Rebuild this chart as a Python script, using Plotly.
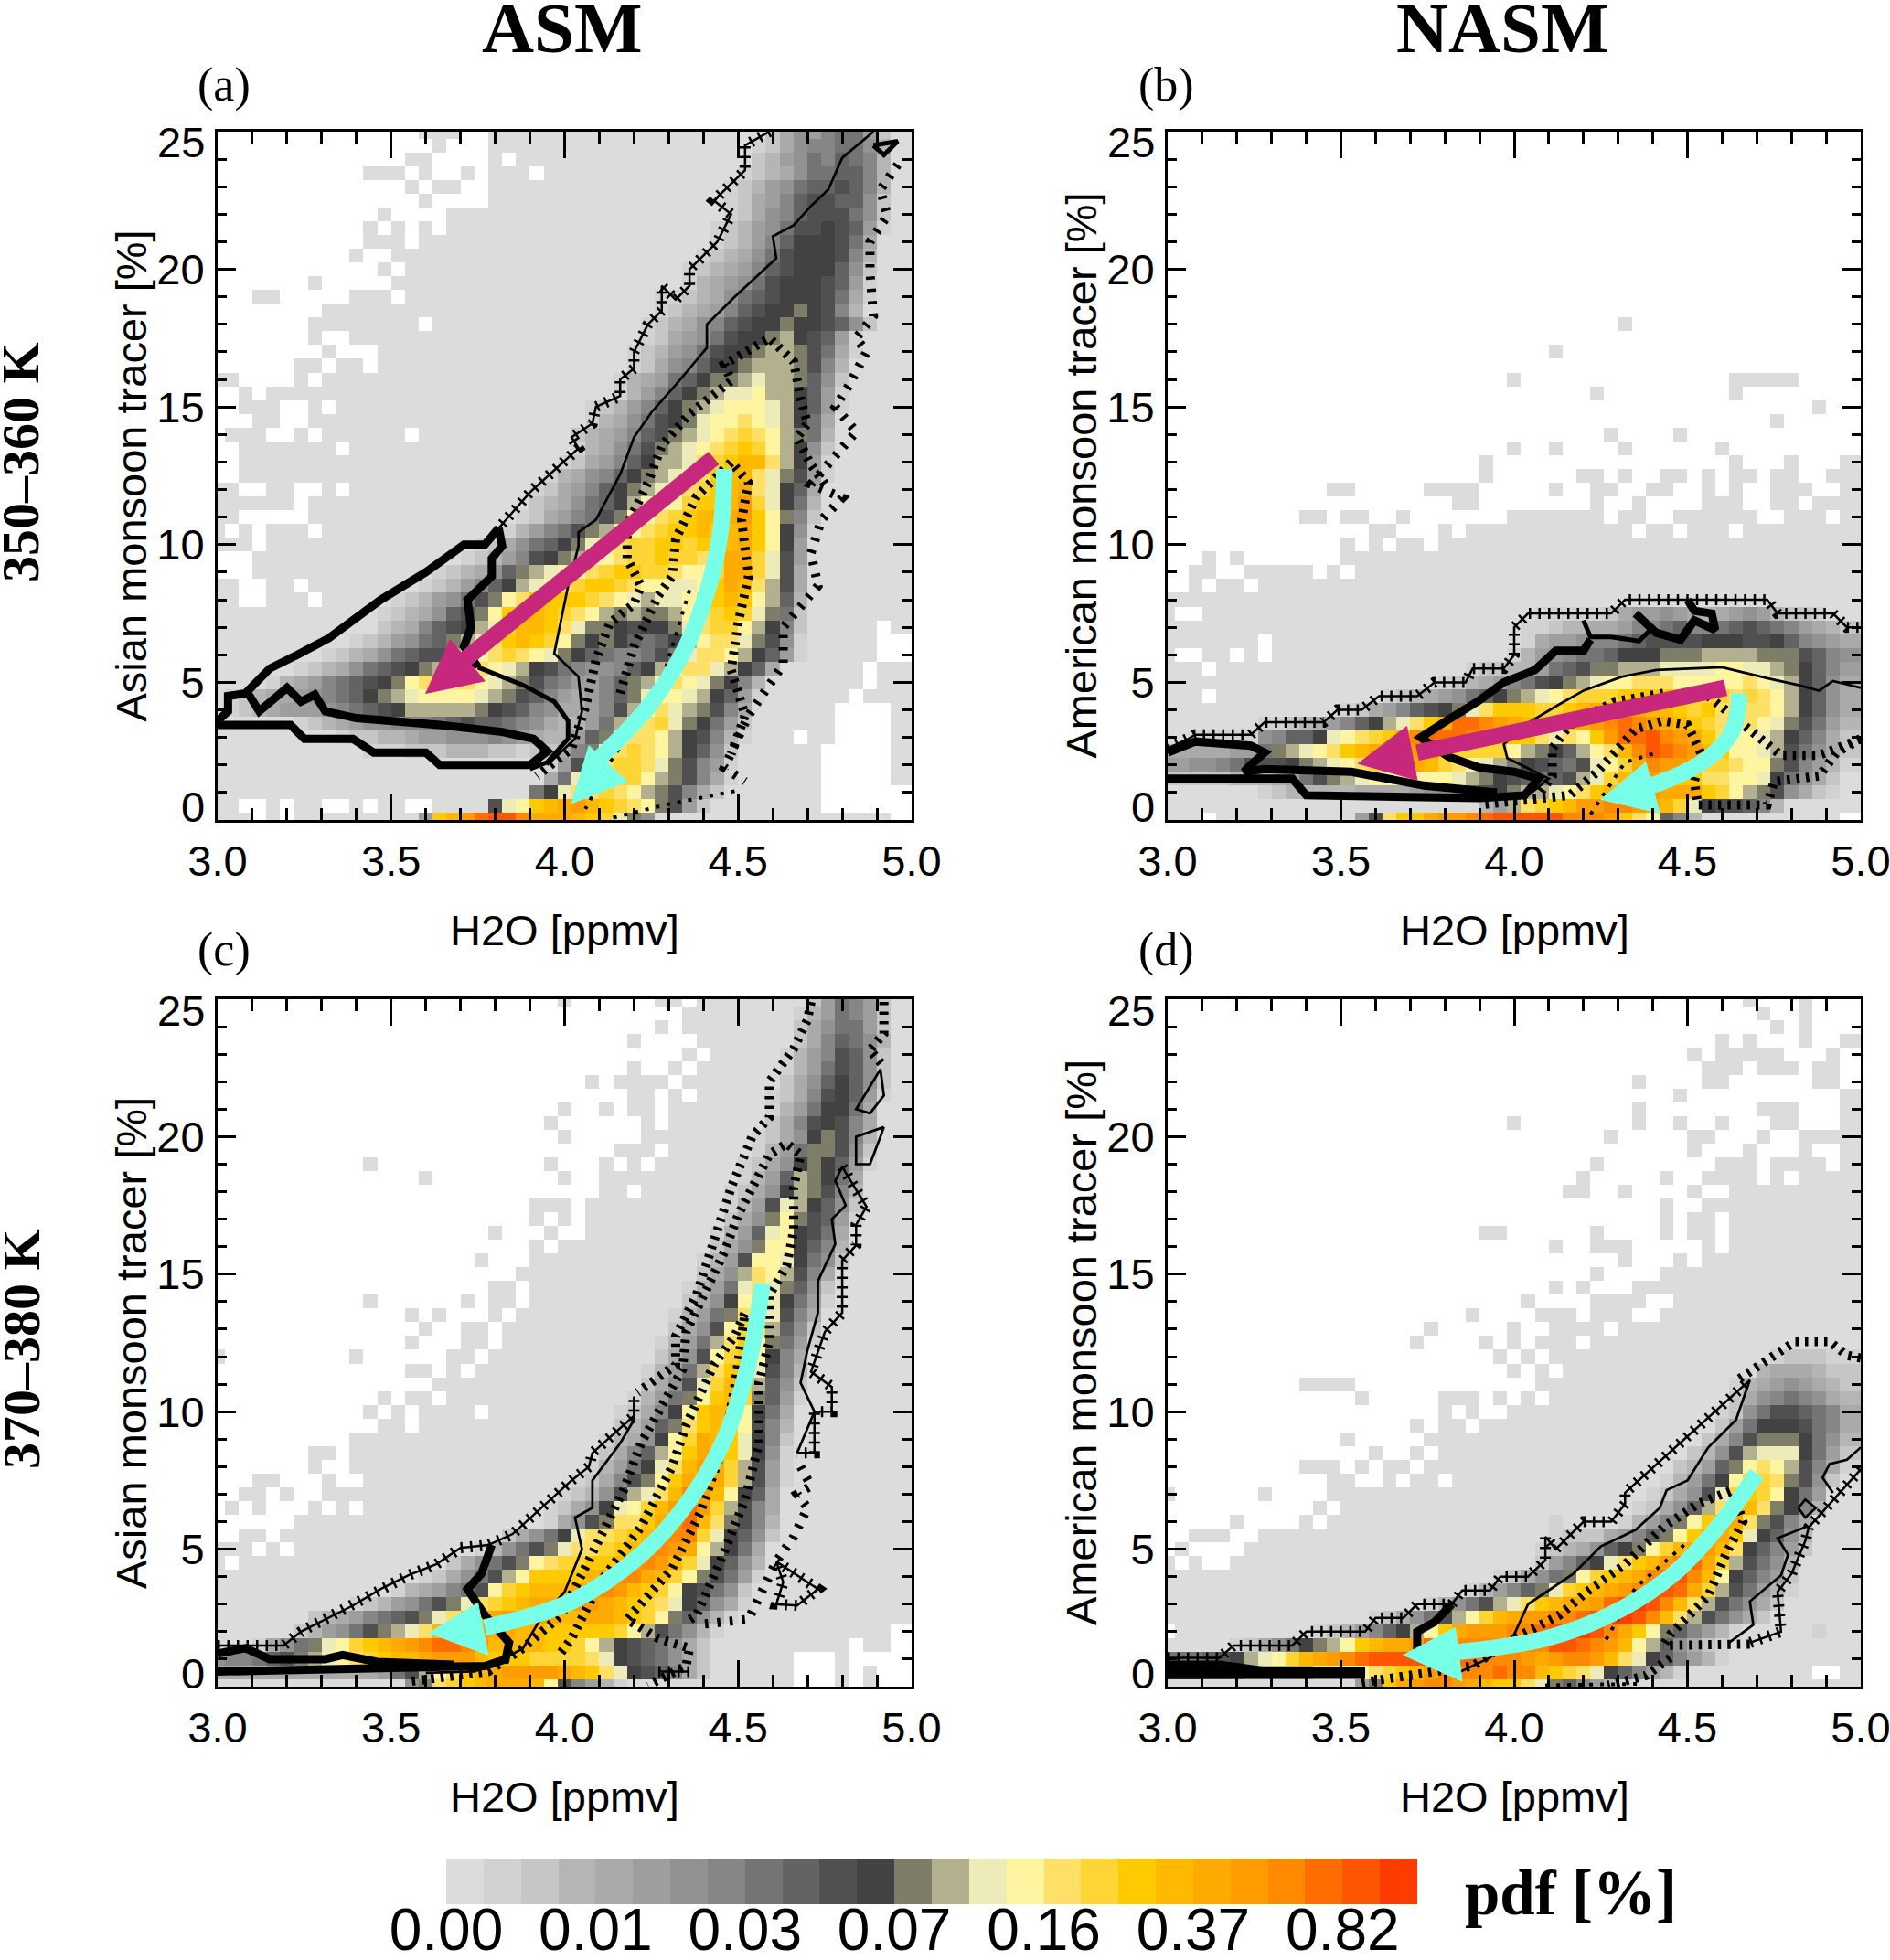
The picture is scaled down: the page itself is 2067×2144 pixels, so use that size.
import plotly.graph_objects as go

# ---------- pdf classes per cell: '.' = no data, a..z = colour classes 1..26 (rows: y=25 down to y=0) ----------
PDF_A = [
".......... .....aaa.. aaaaaaaaaa aaaaaaaaaa cegfhiifca",
".......... ......a... aaaaaaaaaa aaaaaaaaab ceghhiigda",
".......... ....aa.... a.aaaaaaaa aaaaaaaaac dfgihjihda",
".......... .aaa.a..a. aaa.aaaaaa aaaaaaaabc degiijjhda",
".......... ....a.aa.. aaaaaaaaaa aaaaaaabcd fgijjkjhda",
".......... .....a.... aaaaaaaaaa aaaaaaabce fhjkkjjgca",
".......... ..a....aaa aaaaaaaaaa aaaaaaabce ghjkkkigca",
".......... .a.a.a.aaa aaaaaaaaaa aaaaaabcdf gikklkjfba",
".......... .aaa.aaaaa aaaaaaaaaa aaaaaabcdf hjlllkieaa",
".......... a..aaaaaaa aaaaaaaaaa aaaaabcdeg iklllkhdaa",
".......... ..a.aaaaaa aaaaaaaaaa aaaabcdefh jkllljgcaa",
".......a.. ...aaaaaaa aaaaaaaaaa aaaabdefgi klllkjfbaa",
"...aa..... aaa.aaaaaa aaaaaaaaaa aabbcdegij klllkiebaa",
"........aa aaaaaaaaaa aaaaaaaaaa aabcdefhjk llmlkhdaaa",
".......aaa aaaaa.aaaa aaaaaaaaaa abcdeghjkl lmllkjgcaa",
".......a.. aaaaaaaaaa aaaaaaaaaa abcefgikll mnlkjfbaaa",
"........a. ..aaaaaaaa aaaaaaaaaa bcdfgikllm nnmkiebaaa",
"......aa.a a.aaaaaaaa aaaaaaaaaa bceghjllmn nnmkhdaaaa",
"aa....a.aa aaaaaaaaaa aaaaaaaaab defijlmmno nnmjgcaaaa",
"..a.aaaaaa aaaaaaaaaa aaaaaaaaab dfhjlmnoop nnljfbaaaa",
"..aaa..a.a aaaaaaaaaa aaaaaaabcd fhjlmnoppp onljfbaaaa",
"...aa..aaa aaaaaaaaaa aaaaaaabde giklmoppqp onlieaaaaa",
".aaa..a.aa aaaa.aaaaa aaaaaacdef hjkmnopqrq pnmidaaaaa",
"..aaaaaaa. aaaaaaaaaa aaaaaabdeg ikmnopqrsr pnlgcaaaaa",
"..aaaaaaaa aaaaaaaaaa aaaaabcefh jlnnoqrstt qnlfbaaaaa",
"..aaaaaaaa aaaaaaaaaa aaaabdeghj lmnopqsttq omkfbaaaaa",
"aa..aa..a. aaaaaaaaaa aaabcefhjl mnopqrstuq oljeaaaaaa",
"aaaaaa.aaa aaaaaaaaaa aaacdegijl npppr sstvr olidaaaaaa",
"aa.....aaa aaaaaaaaaa aabcefhikm ppqrsttuvs pmhcaaaaaa",
"a.a.aaa.aa aaaaaaaaaa abdfhikmno pqrsststus plgbaaaaaa",
"aaa.aaaaaa aaaaaaaaab cegijlmopq rrssrsrtus plfaaaaaaa",
"...aaaaaaa aaaaaaaabc dfhklmnppq rrsrrqsuur okfaaaaaaa",
"...aaaaaaa aaaaaabcde gjmnoppqrs srrqppruur okeaaaaaaa",
"aa..aa.aaa aaaaabcdfh jlnopqrssr qppoopsutq nkeaaaaaaa",
"aa..aaa.aa aaabcdfgik mpqssssrqp onooprstsp njdaaaaaaa",
"aaaaaaaaaa aabcdegjkm psttsrqpnm nmmnpqrsro micaaaaaaa",
"aaaaaaaaaa aacdehjkln orttsqomml kllmoqrrpn lhcaaaaa.a",
"aaaaaaaaaa bcdfgijmno qstsrpmlml jijlnpqqom kgbaaaaa..",
"aaaaaaaabc degijkknop qrqpomljih hikmoqqpnl jfbaaaaa..",
"aaaaaabcde gijklmnpqq ponlkihggh jlnpqqonlj eaaaaaa.aa",
"aaaabdefhi jklmpqrqqp onmkihffhj mnpqpomlhd aaaaaaa.aa",
"abcdeefghi jlmnoppppo nmkjhfefhj mopponljfb aaaaaa.aaa",
"abcdefffgh ijklnnnnnm lkjhgeefhk npqonmkhea aaaaa....a",
"aaaaaabcde fgghhhijkj jihgeddfin pqromlifca aaaaa....a",
"aaaaaaaaab ccddeffggg hgfeddfjmp qqpnlkhdba aa.aa....a",
"aaaaaaaaaa abbbcccddd ccbccehmoq rqpnljgcaa aaaa.....a",
"aaaaaaaaaa aaaaaaaaaa aaaabfkoqr rqomkhfbaa aaaa.....a",
"aaaaaaaaaa aaaaaaaaaa aaaaeioqqr rpnmkhebaa aaaa.....a",
"aaaaaaaaaa aaaaaaaaaa aaailoqqrq pnmkhecaaa aaaa......",
"aa..a.aa.. a.aa..aaaa kopstuvtsr qpmkfcaaaa aaaa......",
"aaa.a.aaaa aaaaafstvx yywuuutsro mgaaaaaaaa aaaaaaaaa.",
]

PDF_B = ["." * 50] * 14 + [
".......... .......... .......... ...a...... ..........",
".......... .......... .......... .......... ..........",
".......... .......... ........a. .......... ..........",
".......... .......... .......... .......... ..........",
".......... .......... .....a.... .......... .aaaaa....",
".......... .......... .......... .a........ .a........",
".......... .......... .......... .......... .......a..",
".......... .......... .......... .......... ....a.....",
".......... .......... .......... ..a....a.. ..........",
".......... .......... .....a..a. ...a...... a.........",
".......... .......... ...a...... .......... .a...a...a",
".......... .......... ...a...... aa.a..aa.a .aa.aa..aa",
".......... ..aa.....a aaa.....a. .aa..aa..a .a..aaa..a",
".......... .......... .aa....... .a..a....a aa..aa.aaa",
".......... aa.aa..a.. .....aaaaa aa.aa..aaa aaa..aaa.a",
".......... .....aa... a.aaaaaaaa aaaa.aa.aa a.aaaaaaaa",
".......... ...a.a.aa. aaaaaaaaaa aaaaaaaaaa aaaaaaaaaa",
"...a.a.... ...aaaaaaa aaaaaaaaaa aaaaaaaaaa aaaaaaaaaa",
"..aa..aaaa a.a.aaaaaa aaaaaaaaaa aaaaaaaaaa aaaaaaaaaa",
"..a.aa.aaa aaaaaaaaaa aaaaaaaaaa aaaaaaaaaa aaaaaaaaaa",
"aaaaaaaaaa aaaaaaaaaa aaaaaaaaaa aaaaaaaaaa aaaaaaaaaa",
"a..aaaaaaa aaaaaaaaaa aaaaaaabbb bbceffgfed efgfdccbaa",
"aaaaaaaaaa aaaaaaaaaa aaaaaabbcd deefhhijhh ijkjihfedc",
"aaaaaaa.aa aaaaaaaaaa aaaaaabeff ghhijkkkkl llkkljhgfe",
"a..aa.a.aa aaaaaaaaaa aaaaabdfgh iijlllmmmn nnnmmmkjhg",
"aaa.aaaaaa aaaaaaaaaa aabccddfij kmmnnnoooo ppoonmljhf",
"aaaaaaaaaa aaaaaaaaaa bcdefhiklm noppqqqppp ppqponljge",
"aaa.aaaaaa aaaaaabcde fgijlmnopq rrrsssssrr rqrqpnljge",
"aaaaaaaaaa aaabcefhjk lmoqsssrrs tuuuuttsrs qqqqpnljge",
"aaaaaaabbc defhjlnoqs uxxwvutsst uvwxwvutsr qpqpomkifd",
"aabbbbbghj jlopqrsuwx xxwvsssqoq psvxxywvus qpponljhec",
"eeeeeffimn opqstuwwvt srrrrpnmlj npqtwyxwvt spponkigec",
"ffgghikkkl mnopqrsuut rqponmlkji kopruwvvur rqppmkhfdb",
"cccccdddef ikmnoppppp ponmlkjijk nortvvtssq qppoligeca",
"aaaaaaabcd ddddeeeefg hijklmnnop qstuvvuuus rpnmkgecba",
"aaaaaaaaaa aaaaaaaaaa aaadfnqrst vvwwvutrol kkjhdaaaaa",
"aaa.aaaaaa aaaafkqssu vvwxyyyyyw wwvsqpjhda aaaaaaaaa.",
]

PDF_C = [
".......... .......... .....a.... ..aa.aaaaa aaacfihfca",
".......... .......... .......... ....aaaaaa aabdfihfca",
".......... .......... .......... ..a.aaaaaa aacegiifca",
".......... .......... .......... a....aaaaa aacehjigda",
".......... .......... .......... ....a.aaaa abdfhkjgca",
".......... .......... .......... a..a.aaaaa abdfikjgca",
".......... .......... .......a.a aaa.aaaaaa acegjljgca",
".......... .......... .......... aa.a.aaaaa bcehkljfba",
".......... .......... .....a..a. aa.aaaaaaa bdfillieaa",
".......... .......... ....a..... .a.aaaaaaa cehklkheaa",
".......... .......... .....a.... .aaaaaaaab ceglmkhdaa",
".......... .......... .........a aa.aaaaaab dfimmkgcaa",
".......... .a........ ....a...a. a.aaaaaabc eglmljfbaa",
".......... .....a.... .....a..aa aaaaaaaabd fjnmlieaaa",
".......... .......... ........aa .aaaaaabce glnmkhdaaa",
".......... .......... ...aaa.aaa aaaaaaabdf konljgcaaa",
".......... .......... ...a.a.aaa aaaaaaaceg mpmkjfbaaa",
".......... .......... a...a..aaa aaaaaabdfj oplkieaaaa",
".......... .......... ...a.aaaaa aaaaaacegm ppljhdaaaa",
".......... .........a ...aaaaaaa aaaaabdfkp poligcaaaa",
".......... .......... ..aaaaaaaa aaaaacegnq pnkheaaaaa",
".......... .......... aa.aaaaaaa aaaabdfioq omjgcaaaaa",
".......... .a......a. aa.aaaaaaa aaaaceglpq olifbaaaaa",
".......... ....a.a... a.aaaaaaaa aaabdfimqr okheaaaaaa",
".......... .....a..aa .aaaaaaaaa aaacegkprq njgcaaaaaa",
".......... ....a...aa .aaaaaaaaa aabdfinqsp mifbaaaaaa",
"a......... a......aa. aaaaaaaaaa aacegkprsp lheaaaaaaa",
".......... ....aa.a.a aaaaaaaaaa abdfinqsso khdaaaaaaa",
".......... ......aaaa aaaaaaaaaa acegkortsn jgcaaaaaaa",
".......... ..a.aa.aaa aaaaaaaaaa bdfimpstrm jfbaaaaaaa",
".......... .a.a.aaaa. aaaaaaaaab cehlpsttpl ieaaaaaaaa",
".......... ..aa.aaaaa aaaaaaaaac dfjmqstspk hdaaaaaaaa",
".......... aaaaaaaaaa aaaaaaaabd eglprutsol hcaaaaaaaa",
".......aa. aaaaaaaaaa aaaaaaaace hjnpsuusol gbaaaaaaaa",
".......a.. aaaaaaaaaa aaaaaaabdf iloqtvurnk fbaaaaaaaa",
"...aa...a. .aaaaaaaaa aaaaaabceh kmpsuwurnk fbaaaaaaaa",
"..aa.a..aa aaaaaaaaaa aaaaabcdgk noqtwvtplj eaaaaaaaaa",
".a.a...a.a .aaaaaaaaa aaaabceglo prtvxvrnkh eaaaaaaaaa",
"......aaaa aaaaaaaaaa aaaabegkmq qsuwxtqmkh daaaaaaaaa",
"..aa.aaaaa aaaaaaaaaa acegiloqqr stvwwroljg caaaaaaaaa",
"aaa.a.aaaa aaaaaaaaab dgikmoqqrs tvwvupnlie aaaaaaaaaa",
"a.aaaaaaaa aaaaaaaceg ikmpqrrsst vwvtroljgd aaaaaaaaaa",
"aaaaaaaaaa aaaaabcegi knpsssstuw wutrpmkifb aaaaaaaaaa",
"aaaaaaaaaa aaabdefhik prstttuvwv tsrplkigca aaaaaaaaaa",
"aaaaaaaaaa bcdfgikmoq rstuuvvvut srqoljgeba aaaaaaaaaa",
"aaaaaaacde fhijkmoqst uvvvuttuut srpmjgdbaa aaaaaaaaaa",
"aaaaaacdfg ikmnoqtvwv uuttsssssr pnkigdbaaa aaaaaaaaa.",
"aaabegimop rstuvwxxwv ttttssrpnl kjigecaaaa aaaaaa.aa.",
"ghhijkmnop qrsttuvvvt sssrrrrqol kjigecaaaa aa...a....",
"eeeeeeeeee eefiknpqst uvvvvutsqo lkjhecaaaa aa...a.a..",
"aaaaaaaaaa aaaagmqrst uuutpkhfdb aaaaaaaaaa aa...a.a..",
]

PDF_D = [
".......... .......... .......... .......... ..a...a...",
".......... .......... .......... .......... ...a..a...",
".......... .......... .......... .......... ....a.a...",
".......... .......... .......... .......... a.a...a..a",
".......... .......... .......... ........a. aaaaa...a.",
".......... .......... .......... .........a aa.aaa.aa.",
".......... .......... .......... ....a....a a......aa.",
".......... .......... .......... .......a.. .........a",
".......... .......... .......... ....a..... ...aaa...a",
".......... .......... .....a.... ....a..a.. a...aa...a",
".......... .......... .......... ..a.....aa ...a..aaaa",
".......... .......... .......... ........a. ..a...a..a",
".......... .......... .......... .a........ aaa.aaaa.a",
".......... .......... .......... a.....a..a aaa.a.aaaa",
".......... .......... .........a a..a....a. .aaaaaaaaa",
".......... .......... .......... ......a..a aaaaaaaaaa",
".......... .......... .......... ......a.aa .aaaaaaaaa",
".......... .......... ...aa..... .a....a.aa .aaaaaaaaa",
".......... .......... ........a. .aaa.....a .aaaaaaaaa",
".......... .......... .......... ...a...a.a aaaaaaaaaa",
".......... .......... .......... .a....aaaa aaaaaaaaaa",
".......... .......... ........a. a...aaaaaa aaaaaaaaaa",
".......... .......... ......a... .aaaa..aaa aaaaaaaaaa",
".......... .......... ..a....aaa .aaa..aaaa aaaaaaaaaa",
".......... .........a .....a..aa aa.aaaaaaa aaaaaaaaaa",
".......... ........a. ...a.a.aaa .aaaaaaaaa aaaaaaaaaa",
".......... .......... ....a.a.aa aaaaaaaaaa aaaabcccbb",
".......... .......... .....a.a.a aaaaaaaaaa aaadeeedcc",
".......... aaaa...... .......aaa aaaaaaaaaa abdefgfedc",
".......... ....a..... aaa.a.a.aa aaaaaaaaaa aceghihged",
".......... .......... a.a..aaaaa aaaaaaaaaa bcgikkjihe",
".......... ........a. aa.aaaaaaa aaaaaaaaaa cfilllkihe",
".......... ...a.....a aaaaaaaaaa aaaaaaaaac ehkmmmligd",
".......... .....a..a. aaaaaaaaaa aaaaaaaacd gknooolifc",
".......... aaa.a.aa.a aaaaaaaaaa aaaaaaacdf jmpqpnkheb",
".......... ..aa..a.aa .aaaaaaaaa aaaaaabdfi lprrqmkgca",
"a......a.. ..aaaaaaaa aaaaaaaaaa aaaaabcegk orsrplifaa",
".......... .a.aaaaaaa aaaaaaaaaa aaaabcegjn qstqmlhdaa",
".....a.... a.aaaaaaaa aaaaaaaaba aaabdfhmps uuqmkheaaa",
"..aaa..aaa aaaaaaaaaa aaaaaaaabc ccefhjmpsu usoljgdaaa",
".a....aaaa aaaaaaaaaa aaaaaaabcd egjlmprtuv tqljhfcaaa",
"a.a..aaaaa aaaaaaaaaa aaaaaaacfh jloqstvwxu rnkigdaaaa",
"aaaaaaaaaa aaaaaaaaaa aaaabcegim prstuwxywt pljhfcaaaa",
"aaaaaaaaaa aaaaaaaaaa aabdfhjmor stuvwyyxur nkifdbaaaa",
"aaaaaaaaaa aaaaaaaaab dgiknoqstu uvxyzywtqn kigecaaaaa",
"aaaaaaaaaa aaaaabcegi knprtuvvww xyzzywtqnk igecaaaaaa",
".aaaaaaaaa abcdfhjlnp suvvvwwxyy zywuspmjhf dbaaaaabaa",
"aaaaabcegi lmnpstuuvx xwwwwwwwyy xwvtpnjgec baaaaaaaaa",
"iiijklnopr tuvwxyyyyy xxxwwwvuvw wvtqoljhfd baaaaaaaaa",
"lllmmmnnnn nooopqrstv wwwwxwwtsr qoljhfdbaa aaaaaaa..a",
"aaaaaaaaaa aaaafmsuvw wvutssqomj hfdbaaaaaa aaaaaaaaaa",
]

CLASS_COLOURS = ["#dcdcdc","#d2d2d2","#c6c6c6","#b5b5b5","#aaaaaa","#9e9e9e","#929292","#868686","#747474",
                 "#636363","#505050","#424242","#7e7d68","#b2b08f","#edecb8","#fff4a0","#ffe066","#ffd535",
                 "#ffcb00","#ffb900","#ffaa00","#ff9c00","#ff8a00","#ff6c00","#ff5500","#ff3c00"]
COLORBAR_LABELS = ["0.00","0.01","0.03","0.07","0.16","0.37","0.82"]
X_TICKS = [3.0,3.5,4.0,4.5,5.0]
Y_TICKS = [0,5,10,15,20,25]

# ---------- contour lines, (H2O, tracer) ----------
A_CROSS = [(4.59,25),(4.52,24.5),(4.52,23.6),(4.43,22.5),(4.48,22),(4.44,21),(4.36,20),(4.36,19.4),(4.32,18.9),(4.28,19.4),(4.28,18.5),(4.24,18),(4.2,17),(4.2,16.4),(4.16,16),(4.16,15.4),(4.09,15),(4.08,14.4),(4.02,13.9),(4.04,13.5),(3.9,11.9),(3.81,10.6)]
A_THICK1 = [(3.81,10.6),(3.77,10),(3.71,10),(3.6,9),(3.47,8),(3.32,6.6),(3.23,6),(3.15,5.5),(3.08,4.6),(3.03,4.5),(3.03,3.95),(3,3.6)]
A_THICK2 = [(3,3.45),(3.21,3.45),(3.25,2.95),(3.39,2.95),(3.45,2.45),(3.6,2.45),(3.64,2),(3.9,2),(3.95,2.5),(3.91,2.95),(3.82,3.2),(3.64,3.45),(3.4,3.7),(3.31,3.95),(3.28,4.55),(3.24,4.3),(3.2,4.8),(3.12,3.95),(3.09,4.55)]
A_THICK3 = [(3.81,10.6),(3.82,9.95),(3.79,9.5),(3.79,8.85),(3.72,8),(3.73,7),(3.71,6.3),(3.75,5.55)]
A_MID = [(3.75,5.55),(3.88,4.9),(3.97,4.3),(4.01,3.6),(4.01,2.95),(3.95,2.1),(3.9,1.85)]
A_THIN = [(4.89,25),(4.8,24.05),(4.76,22.9),(4.71,22.3),(4.66,21.6),(4.6,21.2),(4.61,20.4),(4.49,19),(4.41,18),(4.41,17.15),(4.32,15.8),(4.25,14.8),(4.2,13.9),(4.16,12.55),(4.09,10.9),(4.04,10.45),(4.04,9.95),(4.01,8.5),(3.97,6.05),(4.04,5.2),(4.05,3.95),(4.03,2.95),(3.95,2)]
A_LOOP = [(4.89,24.5),(4.92,24.15),(4.96,24.65),(4.89,24.5)]
A_DASH = [(4.96,23.8),(4.91,22.9),(4.93,21.95),(4.88,21),(4.88,19.85),(4.89,18.3),(4.84,17.5),(4.87,17),(4.82,15.8),(4.78,15),(4.84,14.1),(4.77,13.1),(4.71,12.2),(4.8,11.7),(4.74,10.9),(4.71,9.7),(4.73,8.5),(4.63,7),(4.63,5.65),(4.53,3.8),(4.46,1.9),(4.52,1.4)]
A_DOT1 = [(4.49,1.05),(4.29,.55),(4.13,.05)]
A_HATCH1 = [(4.75,12.2),(4.71,12.9),(4.67,13.9),(4.7,14.4),(4.68,15.3),(4.66,16.65),(4.59,17.5),(4.46,16.55),(4.48,15.95),(4.36,14.75),(4.28,13.6),(4.24,12.25),(4.18,10.7),(4.18,9.5),(4.22,8.5),(4.2,7.85),(4.13,7.15),(4.09,5.8),(4.06,4.1),(4.02,2.6),(3.92,1.6)]
A_HATCH2 = [(4.16,4.6),(4.2,6.3),(4.27,8.15),(4.31,8.85),(4.32,10.2),(4.38,11.75),(4.48,13),(4.53,12.25),(4.51,10.9),(4.53,8.85),(4.5,7.15),(4.48,5.45),(4.52,3.8),(4.48,2.4)]
A_DOT2 = [(4.36,8.35),(4.29,5.45),(4.24,4.1),(4.13,2.1),(4.06,.4)]

B_CROSS = [(3,2.6),(3.06,2.95),(3.08,3.1),(3.24,3.1),(3.28,3.55),(3.45,3.55),(3.49,4),(3.56,4),(3.61,4.5),(3.72,4.5),(3.77,5),(3.86,5),(3.88,5.5),(3.97,5.5),(4,6),(4,7),(4.04,7.5),(4.28,7.5),(4.32,8),(4.73,8),(4.76,7.5),(4.92,7.5),(4.96,7),(5,7)]
B_THICK1 = [(4.5,8),(4.52,7.6),(4.57,7.5),(4.58,6.9),(4.52,7.25),(4.48,6.55),(4.41,6.8),(4.35,7.5)]
B_THICK2 = [(4.2,7.25),(4.22,6.65),(4.28,6.65),(4.36,6.5),(4.4,7)]
B_THICK3 = [(4.22,6.55),(4.2,6.15),(4.12,6.15),(4.06,5.45),(3.97,5),(3.9,4.35),(3.81,3.65),(3.73,3),(3.81,2.3),(3.9,1.9),(4,1.75),(4.07,1.5),(4.03,.9),(3.9,.8),(3.4,.9),(3.36,1.5),(3,1.5)]
B_THICK4 = [(3,2.45),(3.08,2.85),(3.24,2.7),(3.28,2.45),(3.24,2),(3.22,1.75),(3.28,1.85),(3.53,1.75),(3.74,1.25),(3.95,1)]
B_THIN = [(5,4.8),(4.92,5.05),(4.88,4.7),(4.82,4.9),(4.73,5.15),(4.6,5.55),(4.41,5.45),(4.31,5.2),(4.2,4.7),(4.13,4.2),(4.03,3.45),(3.97,2.75),(3.98,2.25),(4.1,1.5),(4.04,.9)]
B_HATCH1 = [(4.56,4.5),(4.66,3.45),(4.77,2.35),(4.88,2.35),(4.93,2.6),(5,2.95)]
B_HATCH2 = [(5,2.95),(4.93,2.45),(4.88,1.6),(4.75,1.4),(4.73,.55),(4.53,.55),(4.52,1.4),(4.54,2.4),(4.5,3.45),(4.43,3.6),(4.35,3.3),(4.29,2.45),(4.24,1.75),(4.16,.9),(3.9,.55)]
B_HATCH3 = [(4.43,4.6),(4.29,4.3),(4.16,3.45),(4.11,2.6),(4.11,1.6),(4.07,.9)]
B_DOT = [(4.4,2.4),(4.32,2.1),(4.22,.2)]

C_CROSS = [(3,1.5),(3.19,1.5),(3.24,2),(3.31,2.45),(3.39,2.95),(3.47,3.55),(3.55,4.05),(3.63,4.45),(3.7,5.05),(3.78,5.15),(3.85,5.55),(4.02,7.5),(4.07,8),(4.08,8.5),(4.2,9.85),(4.2,10.55)]
C_THIN = [(4.2,10.55),(4.2,9.7),(4.16,8.85),(4.08,7.5),(4.08,6.5),(4.03,6.15),(4.05,5),(4,3.45),(3.93,2.45),(3.88,1.4),(3.81,.9),(3.74,.55),(3.6,.5)]
C_THICK1 = [(3.79,5.15),(3.76,4.1),(3.72,3.55),(3.77,2.6),(3.84,1.6),(3.83,1),(3.77,.75),(3,.55)]
C_THICK2 = [(3,1.2),(3.08,1.4),(3.15,1),(3.31,1),(3.36,1.15),(3.46,.9),(3.68,.8)]
C_LOOP1 = [(4.91,22.45),(4.84,21),(4.88,20.85),(4.92,21.5),(4.91,22.45)]
C_LOOP2 = [(4.92,20.35),(4.84,20),(4.84,19),(4.88,19),(4.91,20),(4.92,20.35)]
C_THIN2 = [(4.8,18.9),(4.78,18.4),(4.81,17.5),(4.77,17),(4.78,16.1),(4.73,14.75),(4.73,13.6),(4.7,12.25),(4.68,11.05),(4.72,10),(4.67,8.5)]
C_CROSS2 = [(4.8,18.9),(4.87,17.45),(4.84,16.8),(4.84,16.05),(4.8,15.5),(4.8,13.6),(4.75,12.9),(4.71,11.45),(4.77,10.9),(4.77,10),(4.72,10),(4.72,8.5),(4.67,8.5)]
C_LOOP3 = [(4.61,4.55),(4.73,3.55),(4.67,2.95),(4.61,3),(4.63,3.8),(4.61,4.55)]
C_HATCH1 = [(4.71,24.9),(4.7,24.25),(4.66,23.2),(4.59,22),(4.59,20.7),(4.54,20),(4.48,18.15),(4.43,16.1),(4.38,14.25),(4.32,12.75),(4.32,11.7),(4.21,10.7)]
C_HATCH2 = [(4.92,24.9),(4.92,23.75),(4.88,23.15),(4.92,22.55)]
C_HATCH3 = [(4.68,8),(4.71,7.3),(4.67,7),(4.7,6.5),(4.66,5.45),(4.61,4.55),(4.53,2.45),(4.38,2.25)]
C_HATCH4 = [(3.56,.2),(3.78,.55),(3.88,1.4),(3.99,2.6),(4.07,4.6),(4.17,7.15),(4.22,8.85),(4.34,11.55),(4.35,12.9),(4.46,15.8),(4.5,17.15),(4.59,19.35),(4.64,19.75),(4.68,19.35),(4.66,18.15),(4.66,16.6),(4.64,15.3),(4.59,14.25),(4.59,12.55),(4.56,11.05),(4.56,8.85),(4.52,6.8),(4.45,4.6),(4.38,2.6),(4.35,2.35)]
C_HATCH5 = [(3.99,1.25),(4.02,1.75),(4.1,3.75),(4.22,5.8),(4.31,8),(4.35,9.5),(4.43,11.7),(4.49,12.75),(4.52,13.6),(4.49,10.9),(4.46,8.85),(4.39,6.3),(4.31,4.3),(4.18,2.45),(4.27,1.75),(4.36,1.4),(4.35,.75),(4.24,.05)]
C_CROSS3 = [(4.27,.55),(4.36,.55)]

D_CROSS = [(3,1.05),(3.15,1.05),(3.19,1.5),(3.36,1.5),(3.4,2),(3.57,2),(3.6,2.5),(3.68,2.5),(3.72,3),(3.82,3),(3.85,3.5),(3.93,3.5),(3.96,4),(4.04,4),(4.09,4.6),(4.09,5.45),(4.12,5),(4.2,6),(4.28,6),(4.32,6.65),(4.32,7.05),(4.68,11.15)]
D_THIN = [(4.68,11.15),(4.64,9.7),(4.56,8.7),(4.5,7.5),(4.44,7.15),(4.42,6.5),(4.35,5.7),(4.25,5.1),(4.17,4.1),(4.04,3),(4,1.9),(3.93,1.05),(3.82,.4)]
D_THICK1 = [(3.82,3),(3.77,2.35),(3.72,2),(3.72,1.4),(3.79,.9),(3.83,.55)]
D_THICK2 = [(3,.5),(3.57,.5)]
D_THICK3 = [(3,.8),(3.15,.8),(3.32,.5)]
D_HATCH1 = [(4.65,11.2),(4.77,12.2),(4.81,12.55),(4.91,12.55),(4.96,12.05),(5,11.95)]
D_CROSS2 = [(5,7.9),(4.91,6.65),(4.85,5.8),(4.84,5.3),(4.8,4.1),(4.76,3.45),(4.77,2),(4.68,1.6)]
D_HATCH2 = [(4.68,1.55),(4.43,1.5)]
D_THIN2 = [(5,8.7),(4.96,8.25),(4.91,8.1),(4.89,7.6),(4.92,7.05)]
D_DIAMOND = [(4.82,6.5),(4.84,6.8),(4.87,6.5),(4.84,6.15),(4.82,6.5)]
D_THIN3 = [(4.84,5.8),(4.76,5.4),(4.79,4.8),(4.77,4.05),(4.68,3.1),(4.69,2.25),(4.62,1.6)]
D_HATCH3 = [(3.56,.15),(3.88,.75),(4,1.75),(4.13,2.6),(4.21,3.45),(4.32,4.45),(4.43,5.8),(4.53,6.65),(4.63,7.15),(4.66,6),(4.61,4.8),(4.56,3.3),(4.45,1.9),(4.43,1.5)]
D_HATCH4 = [(4.49,5.15),(4.35,3.6),(4.26,1.6)]
D_HATCH5 = [(4.45,1.05),(4.38,.4),(4.27,.05)]
D_DOT = [(4.09,.05),(4.36,.1)]

CONTOURS = [
 (0,A_CROSS,"cross"),(0,A_THICK1,"thick"),(0,A_THICK2,"thick"),(0,A_THICK3,"thick"),(0,A_MID,"mid"),(0,A_THIN,"thin"),(0,A_LOOP,"mid"),
 (0,A_DASH,"dash"),(0,A_DOT1,"dot"),(0,A_HATCH1,"hatch"),(0,A_HATCH2,"hatch"),(0,A_DOT2,"dot"),
 (1,B_CROSS,"cross"),(1,B_THICK1,"thick"),(1,B_THICK2,"mid"),(1,B_THICK3,"thick"),(1,B_THICK4,"thick"),(1,B_THIN,"thin"),
 (1,B_HATCH1,"hatch"),(1,B_HATCH2,"hatch"),(1,B_HATCH3,"hatch"),(1,B_DOT,"dot"),
 (2,C_CROSS,"cross"),(2,C_THIN,"thin"),(2,C_THICK1,"thick"),(2,C_THICK2,"thick"),(2,C_LOOP1,"thin"),(2,C_LOOP2,"thin"),(2,C_THIN2,"thin"),
 (2,C_CROSS2,"cross"),(2,C_LOOP3,"cross"),(2,C_HATCH1,"hatch"),(2,C_HATCH2,"hatch"),(2,C_HATCH3,"dash"),(2,C_HATCH4,"hatch"),(2,C_HATCH5,"hatch"),(2,C_CROSS3,"cross"),
 (3,D_CROSS,"cross"),(3,D_THIN,"thin"),(3,D_THICK1,"thick"),(3,D_THICK2,"heavy"),(3,D_THICK3,"thick"),(3,D_HATCH1,"hatch"),(3,D_CROSS2,"cross"),
 (3,D_HATCH2,"hatch"),(3,D_THIN2,"thin"),(3,D_DIAMOND,"thin"),(3,D_THIN3,"thin"),(3,D_HATCH3,"hatch"),(3,D_HATCH4,"dot"),(3,D_HATCH5,"hatch"),(3,D_DOT,"dot"),
]

# ---------- arrows: (panel, colour, shaft, head) in data units ----------
MAGENTA = "#c8277e"
CYAN = "#78ffe8"
ARROWS = [
 (0,MAGENTA,[(4.43,13.15),(3.71,5.8)],[(3.6,4.6),(3.67,6.55),(3.77,5.05)]),
 (0,CYAN,[(4.46,12.75),(4.45,10.55),(4.42,8.7),(4.35,6.3),(4.24,4.1),(4.1,2.25)],[(4.02,.6),(4.07,2.7),(4.18,1.4)]),
 (1,MAGENTA,[(4.61,4.8),(3.72,2.45)],[(3.55,2.05),(3.69,3.4),(3.72,1.45)]),
 (1,CYAN,[(4.65,4.6),(4.63,3.25),(4.56,2.25),(4.43,1.4),(4.39,1.25)],[(4.25,.75),(4.38,2.1),(4.42,.25)]),
 (2,CYAN,[(4.57,14.65),(4.53,11.75),(4.46,9),(4.36,6.8),(4.22,4.8),(4.02,3.1),(3.77,2.15)],[(3.61,1.95),(3.75,3.05),(3.78,1.15)]),
 (3,CYAN,[(4.7,7.75),(4.6,6),(4.46,4.1),(4.29,2.7),(4.09,1.75),(3.83,1.25)],[(3.68,1.15),(3.83,2.15),(3.85,.2)]),
]

W, H = 2067, 2144
SANS, SERIF = "Liberation Sans", "Liberation Serif"
# panel rectangles in page pixels: left, right, top, bottom
PANELS = [(238,997,144,897),(1277,2035,144,897),(238,997,1093,1845),(1277,2035,1093,1845)]
YTITLES = ["Asian monsoon tracer [%]","American monsoon tracer [%]","Asian monsoon tracer [%]","American monsoon tracer [%]"]
TAGS = ["(a)","(b)","(c)","(d)"]
TAG_POS = [(245,93),(1275,93),(245,1039),(1275,1039)]
GRIDS = [PDF_A,PDF_B,PDF_C,PDF_D]

X_CENTRES = [3 + 0.04 * i for i in range(51)]
Y_CENTRES = [25 - 0.5 * k for k in range(51)]
N = len(CLASS_COLOURS)
SCALE = []
for i, c in enumerate(CLASS_COLOURS):
    SCALE += [[i / N, c], [(i + 1) / N, c]]

def decode(rows):
    out = []
    for r in rows:
        s = r.replace(" ", "")
        s = (s + s[-1] * 51)[:51]
        out.append([None if ch == "." else ord(ch) - 96 for ch in s])
    return out

def paper_text(px, py, text, family, size, angle=0):
    return dict(xref="paper", yref="paper", x=px / W, y=1 - py / H, xanchor="center", yanchor="middle", text=text,
                textangle=angle, showarrow=False, font=dict(family=family, size=size, color="black"))

fig = go.Figure()
layout = {}
ann = []
for p, (l, r, t, b) in enumerate(PANELS):
    sx = "" if p == 0 else str(p + 1)
    xref, yref = "x" + sx, "y" + sx
    fig.add_trace(go.Heatmap(x=X_CENTRES, y=Y_CENTRES, z=decode(GRIDS[p]), colorscale=SCALE, zmin=0.5, zmax=N + 0.5,
                             showscale=False, xaxis=xref, yaxis=yref, hoverongaps=False))
    layout["xaxis" + sx] = dict(domain=[l / W, r / W], anchor=yref, range=[3, 5], tickvals=X_TICKS, automargin=False,
        ticktext=["%.1f" % v for v in X_TICKS], ticks="inside", ticklen=29, tickwidth=2.5, tickcolor="black",
        minor=dict(ticks="inside", ticklen=13, tickwidth=2.5, tickcolor="black", dtick=0.1, tick0=3),
        showline=True, linewidth=3, linecolor="black", mirror="ticks", showgrid=False, zeroline=False,
        tickfont=dict(family=SANS, size=47, color="black"), ticklabelstandoff=2, ticklabeloverflow="allow")
    layout["yaxis" + sx] = dict(domain=[1 - b / H, 1 - t / H], anchor=xref, range=[0, 25], tickvals=Y_TICKS, automargin=False,
        ticktext=["" if v in (0, 25) else str(v) for v in Y_TICKS], ticks="inside", ticklen=20, tickwidth=2.5, tickcolor="black",
        minor=dict(ticks="inside", ticklen=10, tickwidth=2.5, tickcolor="black", dtick=1, tick0=0),
        showline=True, linewidth=3, linecolor="black", mirror="ticks", showgrid=False, zeroline=False,
        tickfont=dict(family=SANS, size=47, color="black"), ticklabelstandoff=2, ticklabeloverflow="allow")
    for val, shift in ((25, -12), (0, 15)):
        ann.append(dict(xref=xref, yref=yref, x=3, y=val, xanchor="right", yanchor="middle", xshift=-12, yshift=shift,
                        text=str(val), showarrow=False, font=dict(family=SANS, size=47, color="black")))
    ann.append(paper_text(TAG_POS[p][0], TAG_POS[p][1], TAGS[p], SERIF, 52))
    ann.append(paper_text((l + r) / 2, b + 120, "H2O [ppmv]", SANS, 47))
    ann.append(paper_text(l - 95, (t + b) / 2, YTITLES[p], SANS, 47, -90))

def add_path(panel, pts, **kw):
    sx = "" if panel == 0 else str(panel + 1)
    fig.add_trace(go.Scatter(x=[q[0] for q in pts], y=[q[1] for q in pts], mode="lines",
                             xaxis="x" + sx, yaxis="y" + sx, showlegend=False, hoverinfo="skip", **kw))

for panel, pts, style in CONTOURS:
    if style == "cross":
        add_path(panel, pts, line=dict(color="black", width=2.5))
        add_path(panel, pts, line=dict(color="black", width=12, dash="2.5px,8px"))
    elif style == "thick":
        add_path(panel, pts, line=dict(color="black", width=9))
    elif style == "heavy":
        add_path(panel, pts, line=dict(color="black", width=13))
    elif style == "mid":
        add_path(panel, pts, line=dict(color="black", width=5))
    elif style == "thin":
        add_path(panel, pts, line=dict(color="black", width=2.7))
    elif style == "hatch":
        add_path(panel, pts, line=dict(color="black", width=10, dash="3.5px,7px"))
    elif style == "dash":
        add_path(panel, pts, line=dict(color="black", width=10, dash="3.5px,10px"))
    elif style == "dot":
        add_path(panel, pts, line=dict(color="black", width=4, dash="4px,8px"))

for panel, colour, shaft, head in ARROWS:
    add_path(panel, shaft, line=dict(color=colour, width=18, shape="spline", smoothing=1.0))
    add_path(panel, head + head[:1], fill="toself", fillcolor=colour, line=dict(color=colour, width=1))

# colour bar strip
fig.add_trace(go.Heatmap(x=[i + 0.5 for i in range(N)], y=[0], z=[list(range(1, N + 1))], colorscale=SCALE,
                         zmin=0.5, zmax=N + 0.5, showscale=False, xaxis="x5", yaxis="y5", hoverinfo="skip"))
layout["xaxis5"] = dict(domain=[488 / W, 1550 / W], anchor="y5", range=[0, N], tickvals=list(range(0, N, 4)), automargin=False,
                        ticktext=COLORBAR_LABELS, ticks="", showline=False, showgrid=False, zeroline=False,
                        tickfont=dict(family=SANS, size=64, color="black"), ticklabelstandoff=-15, ticklabeloverflow="allow")
layout["yaxis5"] = dict(domain=[1 - 2083 / H, 1 - 2033 / H], anchor="x5", range=[-0.5, 0.5], visible=False, automargin=False)

ann += [
    paper_text(615, 30, "<b>ASM</b>", SERIF, 79),
    paper_text(1643, 30, "<b>NASM</b>", SERIF, 79),
    paper_text(23, 506, "<b>350–360 K</b>", SERIF, 58, -90),
    paper_text(23, 1476, "<b>370–380 K</b>", SERIF, 58, -90),
    paper_text(1718, 2071, "<b>pdf [%]</b>", SERIF, 69),
]
fig.update_layout(width=W, height=H, autosize=False, margin=dict(l=0, r=0, t=0, b=0, autoexpand=False), paper_bgcolor="white",
                  plot_bgcolor="white", showlegend=False, annotations=ann, **layout)
fig.write_html("out.html", config={"displayModeBar": False}, post_script="document.body.style.margin='0';")
